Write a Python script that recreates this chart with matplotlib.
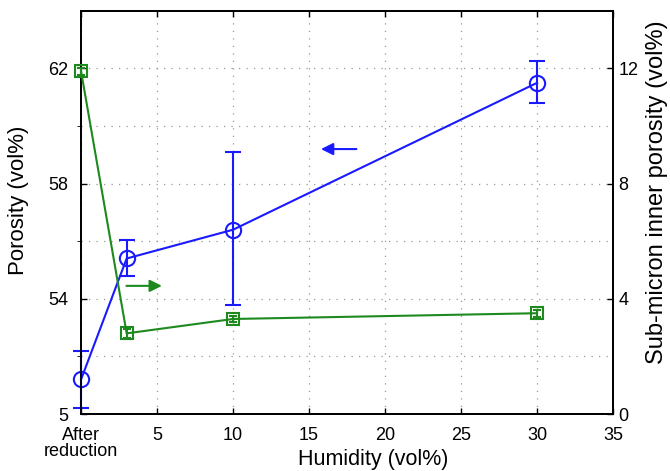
import matplotlib.pyplot as plt
from matplotlib.ticker import FixedLocator

plt.rcParams['font.family'] = ['Liberation Sans', 'DejaVu Sans']

# data
humidity = [0, 3, 10, 30]
porosity = [51.2, 55.4, 56.4, 61.5]
porosity_lo = [50.2, 54.8, 53.8, 60.8]
porosity_hi = [52.2, 56.05, 59.1, 62.25]
inner = [11.9, 2.8, 3.3, 3.5]
inner_err = [0.12, 0.15, 0.12, 0.12]

xticks = [0, 5, 10, 15, 20, 25, 30, 35]
xlabels = ['After\nreduction', '5', '10', '15', '20', '25', '30', '35']
yticks_left = [50, 54, 58, 62]
ylabels_left = ['5', '54', '58', '62']
ygrid_minor = [52, 56, 60]
yticks_right = [0, 4, 8, 12]

blue = '#1a1aff'
green = '#1e8a1e'

fig = plt.figure(figsize=(6.7, 4.71), dpi=100)
ax = fig.add_axes([0.121, 0.121, 0.794, 0.856])
ax2 = ax.twinx()

err = [[p - l for p, l in zip(porosity, porosity_lo)],
       [h - p for p, h in zip(porosity, porosity_hi)]]
ax.errorbar(humidity, porosity, yerr=err, color=blue, lw=1.5, marker='o',
            ms=11, mfc='none', mew=1.5, capsize=6, capthick=1.5, zorder=5,
            clip_on=False)
ax2.errorbar(humidity, inner, yerr=inner_err, color=green, lw=1.5, marker='s',
             ms=9, mfc='none', mew=1.5, capsize=3, capthick=1, zorder=5,
             clip_on=False)

ax.set_xlim(0, 35)
ax.set_ylim(50, 64)
ax2.set_ylim(0, 14)

ax.set_xticks(xticks)
ax.set_xticklabels(xlabels, fontsize=13, linespacing=0.95)
ax.set_yticks(yticks_left)
ax.set_yticklabels(ylabels_left, fontsize=13)
ax.yaxis.set_minor_locator(FixedLocator(ygrid_minor))
ax2.set_yticks(yticks_right)
ax2.set_yticklabels([str(v) for v in yticks_right], fontsize=13)

ax.grid(True, which='both', color='#999999', ls=(0, (1, 5)), lw=0.9)
ax.tick_params(direction='in', top=True, length=4, width=1)
ax.tick_params(axis='x', pad=9)
ax.tick_params(axis='y', pad=9)
ax.tick_params(which='minor', length=3)
ax2.tick_params(direction='in', length=4, width=1, pad=4)
for a in (ax, ax2):
    for s in a.spines.values():
        s.set_linewidth(1.3)

ax.set_xlabel('Humidity (vol%)', fontsize=15.5)
ax.xaxis.set_label_coords(0.549, -0.086)
ax.set_ylabel('Porosity (vol%)', fontsize=16, va='center')
ax.yaxis.set_label_coords(-0.118, 0.53)
ax2.set_ylabel('Sub-micron inner porosity (vol%)', fontsize=17, va='center')
ax2.yaxis.set_label_coords(1.083, 0.55)

# direction arrows
ax.annotate('', xy=(15.6, 59.2), xytext=(18.3, 59.2),
            arrowprops=dict(arrowstyle='-|>', color=blue, lw=1.5,
                            mutation_scale=18))
ax2.annotate('', xy=(5.5, 4.45), xytext=(2.8, 4.45),
             arrowprops=dict(arrowstyle='-|>', color=green, lw=1.5,
                             mutation_scale=18))

fig.savefig('out.png', dpi=100)
